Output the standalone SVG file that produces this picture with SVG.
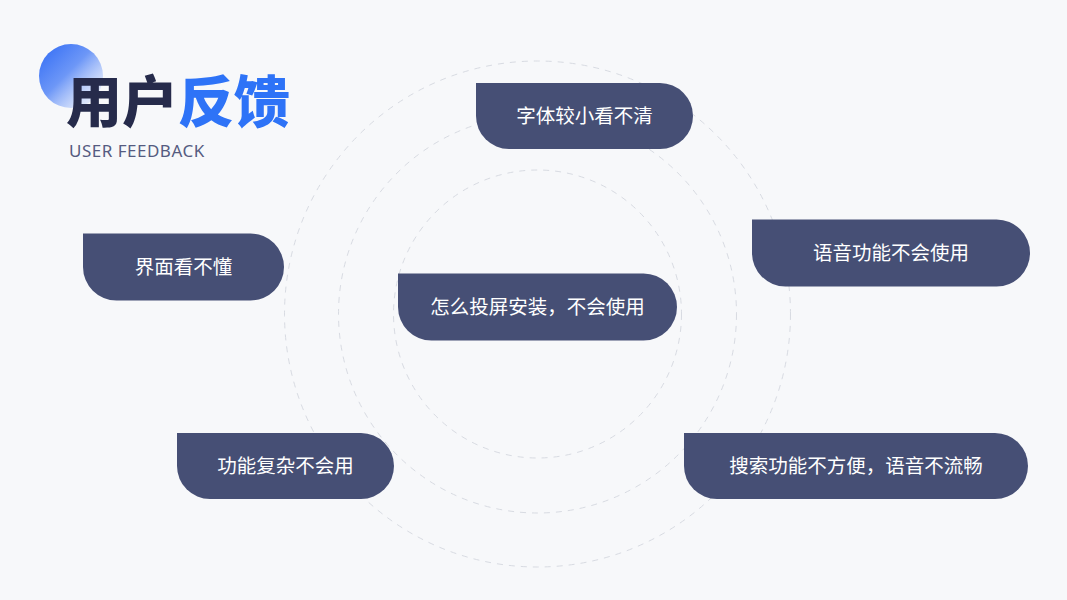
<svg xmlns="http://www.w3.org/2000/svg" width="1067" height="600" viewBox="0 0 1067 600">
<defs>
<linearGradient id="dot" x1="0" y1="0" x2="1" y2="1">
<stop offset="0" stop-color="#2f6af5"/>
<stop offset="0.45" stop-color="#6d97f7"/>
<stop offset="1" stop-color="#f2f5fd" stop-opacity="0.4"/>
</linearGradient>
<style>
.ring{fill:none;stroke:#d8dbe2;stroke-width:1;stroke-dasharray:6 6}
.pill{fill:#464f75}
.lbl{fill:#ffffff;font-family:"Noto Sans CJK SC","Noto Sans",sans-serif;font-size:19.5px;text-anchor:middle}
.ttl{font-family:"Noto Sans CJK SC","Noto Sans",sans-serif;font-size:56px;font-weight:900}
</style>
</defs>
<rect width="1067" height="600" fill="#f7f8fa"/>
<g id="rings">
<circle class="ring" cx="537.5" cy="314" r="253"/>
<circle class="ring" cx="537.5" cy="314" r="199"/>
<circle class="ring" cx="537.5" cy="314" r="144"/>
</g>
<g id="title">
<circle cx="71" cy="76" r="32" fill="url(#dot)"/>
<text class="ttl" x="66" y="122" fill="#262b4b">用户</text>
<text class="ttl" x="178" y="122" fill="#2e73f7">反馈</text>
<text x="69" y="157" font-family="'Noto Sans','Liberation Sans',sans-serif" font-size="17" letter-spacing="0.5" fill="#555b80">USER FEEDBACK</text>
</g>
<g id="n1">
<path class="pill" d="M476 83 H660 A33 33 0 0 1 660 149 H509 A33 33 0 0 1 476 116 Z"/>
<text class="lbl" x="584.5" y="123">字体较小看不清</text>
</g>
<g id="n2">
<path class="pill" d="M752 219.5 H996.5 A33.5 33.5 0 0 1 996.5 286.5 H785.5 A33.5 33.5 0 0 1 752 253 Z"/>
<text class="lbl" x="891" y="260">语音功能不会使用</text>
</g>
<g id="n3">
<path class="pill" d="M83 233.5 H250.5 A33.5 33.5 0 0 1 250.5 300.5 H116.5 A33.5 33.5 0 0 1 83 267 Z"/>
<text class="lbl" x="183.5" y="274">界面看不懂</text>
</g>
<g id="n4">
<path class="pill" d="M398 273.5 H643.5 A33.5 33.5 0 0 1 643.5 340.5 H431.5 A33.5 33.5 0 0 1 398 307 Z"/>
<text class="lbl" x="537.5" y="314">怎么投屏安装，不会使用</text>
</g>
<g id="n5">
<path class="pill" d="M177 433 H361 A33 33 0 0 1 361 499 H210 A33 33 0 0 1 177 466 Z"/>
<text class="lbl" x="285.5" y="473">功能复杂不会用</text>
</g>
<g id="n6">
<path class="pill" d="M684 433 H995 A33 33 0 0 1 995 499 H717 A33 33 0 0 1 684 466 Z"/>
<text class="lbl" x="856" y="473">搜索功能不方便，语音不流畅</text>
</g>
</svg>
